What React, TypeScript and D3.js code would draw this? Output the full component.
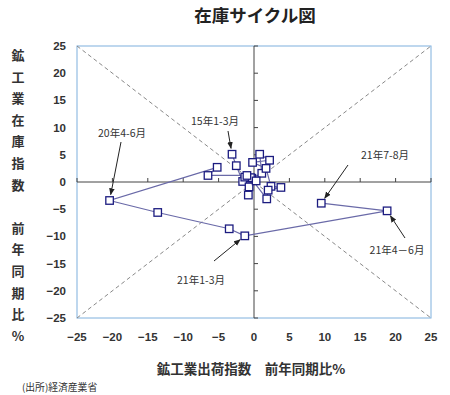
import * as d3 from "d3";

const W = 450;
const H = 395;
const plot = { left: 77, right: 431, top: 46, bottom: 318 };

// quarters from 15年1-3月 to 21年7-8月
const periods = [
  "15Q1", "15Q2", "15Q3", "15Q4", "16Q1", "16Q2", "16Q3", "16Q4",
  "17Q1", "17Q2", "17Q3", "17Q4", "18Q1", "18Q2", "18Q3", "18Q4",
  "19Q1", "19Q2", "19Q3", "19Q4", "20Q1", "20Q2", "20Q3", "20Q4",
  "21Q1", "21Q2", "21Q3",
];
// 出荷指数 前年同期比
const shipments = [
  -3.1, -2.5, -1.6, -0.7, -0.8, -0.3, 1.1, 0.8,
  2.2, -0.2, 1.7, 2.4, 3.8, 2.0, 1.8, -0.5,
  0.3, -1.3, -1.0, -6.5, -5.2, -20.4, -13.6, -3.5,
  -1.3, 18.8, 9.5,
];
// 在庫指数 前年同期比
const inventory = [
  5.1, 3.0, 0.1, -0.9, -2.4, 0.7, 1.6, 5.1,
  4.0, 3.6, 2.5, -0.8, -1.0, -1.5, -3.1, 0.8,
  0.2, 0.9, 1.2, 1.2, 2.7, -3.4, -5.6, -8.6,
  -9.9, -5.3, -3.9,
];

const ticks = [-25, -20, -15, -10, -5, 0, 5, 10, 15, 20, 25];

const notes = [
  { text: "15年1-3月", at: "15Q1", tx: 215, ty: 125, ax: 228, ay: 131 },
  { text: "20年4-6月", at: "20Q2", tx: 122, ty: 137, ax: 121, ay: 142 },
  { text: "21年7-8月", at: "21Q3", tx: 385, ty: 159, ax: 348, ay: 165 },
  { text: "21年4－6月", at: "21Q2", tx: 397, ty: 254, ax: 405, ay: 238 },
  { text: "21年1-3月", at: "21Q1", tx: 201, ty: 284, ax: 214, ay: 261 },
];

const yTitle = ["鉱", "工", "業", "在", "庫", "指", "数", "", "前", "年", "同", "期", "比", "%"];

const font = "'Liberation Sans', Arial, 'Noto Sans CJK JP', sans-serif";
const jpFont = "'Noto Sans CJK JP', sans-serif";

export default function App() {
  const x = d3.scaleLinear().domain([-25, 25]).range([plot.left, plot.right]);
  const y = d3.scaleLinear().domain([-25, 25]).range([plot.bottom, plot.top]);

  const pts = periods.map((p, i) => ({ p, x: shipments[i], y: inventory[i] }));
  const path = d3.line<{ x: number; y: number }>()
    .x((d) => x(d.x))
    .y((d) => y(d.y))(pts);

  return (
    <svg width={W} height={H} style={{ position: "absolute", left: 0, top: 0, background: "#fff" }}>
      <defs>
        <marker id="arr" viewBox="0 0 10 10" refX="9" refY="5" markerWidth="7" markerHeight="7" orient="auto">
          <path d="M0,1 L10,5 L0,9 z" fill="#222" />
        </marker>
      </defs>

      <text x={255} y={22} textAnchor="middle" fontFamily={jpFont} fontWeight="bold" fontSize={17.5} fill="#222">
        在庫サイクル図
      </text>

      {/* plot frame */}
      <rect x={plot.left} y={plot.top} width={plot.right - plot.left} height={plot.bottom - plot.top}
        fill="none" stroke="#7fb0dd" strokeWidth={1} />

      {/* diagonals */}
      <line x1={x(-25)} y1={y(25)} x2={x(25)} y2={y(-25)} stroke="#888" strokeDasharray="4,3" />
      <line x1={x(-25)} y1={y(-25)} x2={x(25)} y2={y(25)} stroke="#888" strokeDasharray="4,3" />

      {/* zero axes */}
      <line x1={x(-25)} x2={x(25)} y1={y(0)} y2={y(0)} stroke="#444" />
      <line x1={x(0)} x2={x(0)} y1={y(-25)} y2={y(25)} stroke="#444" />
      {ticks.map((t) => (
        <g key={"t" + t}>
          <line x1={x(t)} x2={x(t)} y1={y(0)} y2={y(0) - 4} stroke="#444" />
          <line x1={x(0)} x2={x(0) + 4} y1={y(t)} y2={y(t)} stroke="#444" />
        </g>
      ))}

      {/* tick labels */}
      {ticks.map((t) => (
        <text key={"yl" + t} x={66} y={y(t) + 4} textAnchor="end" fontFamily={font} fontWeight="bold"
          fontSize={11.5} fill="#333">
          {t < 0 ? "−" + Math.abs(t) : t}
        </text>
      ))}
      {ticks.map((t) => (
        <text key={"xl" + t} x={x(t)} y={341} textAnchor="middle" fontFamily={font} fontWeight="bold"
          fontSize={11.5} fill="#333">
          {t < 0 ? "−" + Math.abs(t) : t}
        </text>
      ))}

      {/* axis titles */}
      {yTitle.map((c, i) => (
        <text key={"yt" + i} x={18} y={60 + i * 21.6} textAnchor="middle" fontFamily={jpFont}
          fontWeight="bold" fontSize={13} fill="#333">
          {c}
        </text>
      ))}
      <text x={251} y={374} textAnchor="middle" fontFamily={jpFont} fontWeight="bold" fontSize={13.5} fill="#333">
        鉱工業出荷指数　前年同期比%
      </text>
      <text x={22} y={391} fontFamily={jpFont} fontSize={9.8} fill="#333">
        (出所)経済産業省
      </text>

      {/* cycle path */}
      <path d={path ?? ""} fill="none" stroke="#6a6aa8" strokeWidth={1.2} />
      {pts.map((d) => (
        <rect key={d.p} x={x(d.x) - 3.75} y={y(d.y) - 3.75} width={7.5} height={7.5}
          fill="#fff" stroke="#1c1c80" strokeWidth={1.3} />
      ))}

      {/* annotations */}
      {notes.map((n) => {
        const i = periods.indexOf(n.at);
        const px = x(shipments[i]);
        const py = y(inventory[i]);
        const dx = n.ax - px;
        const dy = n.ay - py;
        const len = Math.hypot(dx, dy);
        const ex = px + (dx / len) * 6;
        const ey = py + (dy / len) * 6;
        return (
          <g key={n.text}>
            <text x={n.tx} y={n.ty} textAnchor="middle" fontFamily={jpFont} fontSize={10.5} fill="#333">
              {n.text}
            </text>
            <line x1={n.ax} y1={n.ay} x2={ex} y2={ey} stroke="#222" strokeWidth={1} markerEnd="url(#arr)" />
          </g>
        );
      })}
    </svg>
  );
}
